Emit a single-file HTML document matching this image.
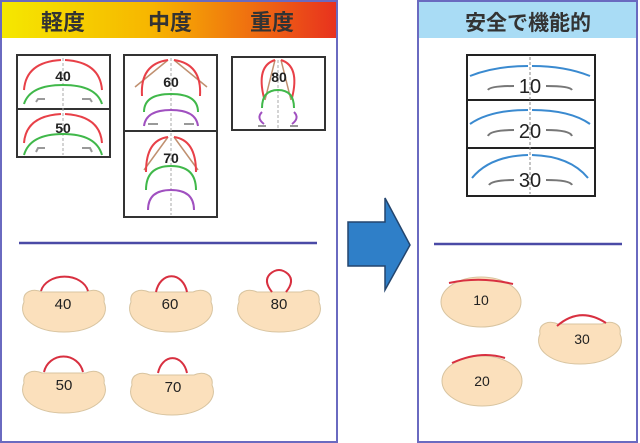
<!DOCTYPE html>
<html><head><meta charset="utf-8"><style>
html,body{margin:0;padding:0;background:#fff;width:640px;height:443px;overflow:hidden}
svg{display:block}
text{font-family:"Liberation Sans","Noto Sans CJK JP",sans-serif;font-weight:bold}
</style></head><body>
<svg width="640" height="443" viewBox="0 0 640 443" xmlns="http://www.w3.org/2000/svg">
<defs>
<linearGradient id="hg" x1="0" x2="1" y1="0" y2="0">
<stop offset="0" stop-color="#f5e800"/><stop offset="0.45" stop-color="#f7b500"/><stop offset="1" stop-color="#e8321e"/>
</linearGradient>
<g id="blob"><path d="M-40,-6 C-42,-17 -30,-20 -22,-16 L22,-16 C30,-20 42,-17 40,-6 C47,10 28,24 0,24 C-28,24 -47,10 -40,-6 Z" fill="#fbe0bc" stroke="#d8c4a0" stroke-width="1"/></g>
</defs>
<rect x="1" y="1" width="336" height="441" fill="#fff" stroke="#6a6ac0" stroke-width="2"/>
<rect x="2" y="2" width="334" height="36" fill="url(#hg)"/>
<text x="63" y="30" font-size="22" text-anchor="middle" fill="#333">軽度</text>
<text x="170" y="30" font-size="22" text-anchor="middle" fill="#333">中度</text>
<text x="272" y="30" font-size="22" text-anchor="middle" fill="#333">重度</text>
<rect x="418" y="1" width="219" height="441" fill="#fff" stroke="#6a6ac0" stroke-width="2"/>
<rect x="419" y="2" width="217" height="36" fill="#a9dcf5"/>
<text x="528" y="30" font-size="21" text-anchor="middle" fill="#333">安全で機能的</text>
<path d="M348,222 L385,222 L385,198 L410,245 L385,290 L385,266 L348,266 Z" fill="#2f7fc8" stroke="#23456e" stroke-width="1.5"/>
<line x1="19" y1="243" x2="317" y2="243" stroke="#4a4aa6" stroke-width="2.5"/>
<line x1="434" y1="244" x2="622" y2="244" stroke="#4a4aa6" stroke-width="2.5"/>
<g fill="none" stroke-width="2">
<rect x="17" y="55" width="93" height="102" stroke="#333"/>
<line x1="17" y1="109" x2="110" y2="109" stroke="#333"/>
<line x1="63" y1="58" x2="63" y2="155" stroke="#aaa" stroke-dasharray="3,2" stroke-width="1"/>
<path d="M24,90 Q26,62 61,60 M65,60 Q100,62 102,90" stroke="#e84048"/>
<path d="M24,104 Q30,85 63,85 Q96,85 102,104" stroke="#40b84a"/>
<path d="M36,102 L38,99 L45,99 M82,99 L90,99 L92,102" stroke="#999"/>
<path d="M24,143 Q26,116 61,114 M65,114 Q100,116 102,143" stroke="#e84048"/>
<path d="M24,155 Q30,134 63,134 Q96,134 102,155" stroke="#40b84a"/>
<path d="M36,152 L38,148 L45,148 M82,148 L90,148 L92,152" stroke="#999"/>
<rect x="124" y="55" width="93" height="162" stroke="#333"/>
<line x1="124" y1="131" x2="217" y2="131" stroke="#333"/>
<line x1="171" y1="58" x2="171" y2="215" stroke="#aaa" stroke-dasharray="3,2" stroke-width="1"/>
<path d="M135,87 L168,60 M174,60 L207,87" stroke="#c09070" stroke-width="1.5"/>
<path d="M142,96 Q140,64 168,60 M174,60 Q202,64 200,96" stroke="#e84048"/>
<path d="M144,112 Q144,94 171,94 Q198,94 198,112" stroke="#40b84a"/>
<path d="M144,126 Q146,110 171,110 Q196,110 198,126" stroke="#a050c0"/>
<path d="M148,124 L158,124 M184,124 L194,124" stroke="#999"/>
<path d="M144,170 L168,137 M174,137 L198,170" stroke="#c09070" stroke-width="1.5"/>
<path d="M146,172 Q146,140 168,137 M174,137 Q196,140 196,172" stroke="#e84048"/>
<path d="M146,190 Q146,166 171,166 Q196,166 196,190" stroke="#40b84a"/>
<path d="M148,210 Q148,190 171,190 Q194,190 194,210" stroke="#a050c0"/>
<rect x="232" y="57" width="93" height="73" stroke="#333"/>
<line x1="278" y1="60" x2="278" y2="128" stroke="#aaa" stroke-dasharray="3,2" stroke-width="1"/>
<path d="M265,100 L275,60 M281,60 L291,100" stroke="#c09070" stroke-width="1.5"/>
<path d="M264,98 Q256,66 275,60 M281,60 Q300,66 292,98" stroke="#e84048"/>
<path d="M262,108 Q262,90 278,90 Q294,90 294,108" stroke="#40b84a"/>
<path d="M262,112 Q256,118 264,124 M294,112 Q300,118 292,124" stroke="#a050c0"/>
<path d="M258,126 L266,126 M290,126 L298,126" stroke="#999"/>
<rect x="467" y="55" width="128" height="141" stroke="#222"/>
<line x1="467" y1="100" x2="595" y2="100" stroke="#222"/>
<line x1="467" y1="148" x2="595" y2="148" stroke="#222"/>
<line x1="530" y1="57" x2="530" y2="194" stroke="#888" stroke-dasharray="3,2" stroke-width="1"/>
<path d="M470,76 Q495,66 528,66 M532,66 Q565,66 590,76" stroke="#3a8ad0"/>
<path d="M470,124 Q490,110 528,110 M532,110 Q570,110 590,124" stroke="#3a8ad0"/>
<path d="M472,178 Q490,156 528,155 M532,155 Q570,156 588,178" stroke="#3a8ad0"/>
<path d="M488,90 Q490,86 514,86 M546,86 Q570,86 572,90" stroke="#777"/>
<path d="M488,136 Q490,130 514,130 M546,130 Q570,130 572,136" stroke="#777"/>
<path d="M489,185 Q492,180 514,180 M546,180 Q570,180 572,185" stroke="#777"/>
</g>
<g font-size="14" text-anchor="middle" fill="#222">
<text x="63" y="81">40</text><text x="63" y="133">50</text>
<text x="171" y="87">60</text><text x="171" y="163">70</text>
<text x="279" y="82">80</text>
</g>
<g font-size="20" text-anchor="middle" fill="#222">
<text x="530" y="93" style="font-weight:normal">10</text>
<text x="530" y="138" style="font-weight:normal">20</text>
<text x="530" y="187" style="font-weight:normal">30</text>
</g>
<use href="#blob" x="64" y="308"/>
<use href="#blob" x="171" y="308"/>
<use href="#blob" x="279" y="308"/>
<use href="#blob" x="64" y="389"/>
<use href="#blob" x="172" y="391"/>
<g fill="none" stroke="#d83040" stroke-width="2">
<path d="M41,291 A24,18 0 0 1 88,291"/>
<path d="M156,292 A16,21 0 0 1 187,292"/>
<path d="M272,292 Q263,281 270,274 Q279,266 288,274 Q295,281 286,292"/>
<path d="M44,372 A20,20 0 0 1 83,372"/>
<path d="M158,373 A15,20 0 0 1 187,373"/>
</g>
<g font-size="15" text-anchor="middle" fill="#222">
<text x="63" y="309" style="font-weight:normal">40</text>
<text x="170" y="309" style="font-weight:normal">60</text>
<text x="279" y="309" style="font-weight:normal">80</text>
<text x="64" y="390" style="font-weight:normal">50</text>
<text x="173" y="392" style="font-weight:normal">70</text>
</g>
<ellipse cx="481" cy="302" rx="40" ry="25" fill="#fbe0bc" stroke="#d8c4a0"/>
<ellipse cx="482" cy="381" rx="40" ry="25" fill="#fbe0bc" stroke="#d8c4a0"/>
<use href="#blob" x="580" y="340"/>
<g fill="none" stroke="#d83040" stroke-width="2">
<path d="M449,283 Q480,276 513,284"/>
<path d="M452,363 Q480,350 505,358"/>
<path d="M557,326 Q580,306 606,323"/>
</g>
<g font-size="14" text-anchor="middle" fill="#222">
<text x="481" y="305" style="font-weight:normal">10</text>
<text x="482" y="386" style="font-weight:normal">20</text>
<text x="582" y="344" style="font-weight:normal">30</text>
</g>
</svg>
</body></html>
